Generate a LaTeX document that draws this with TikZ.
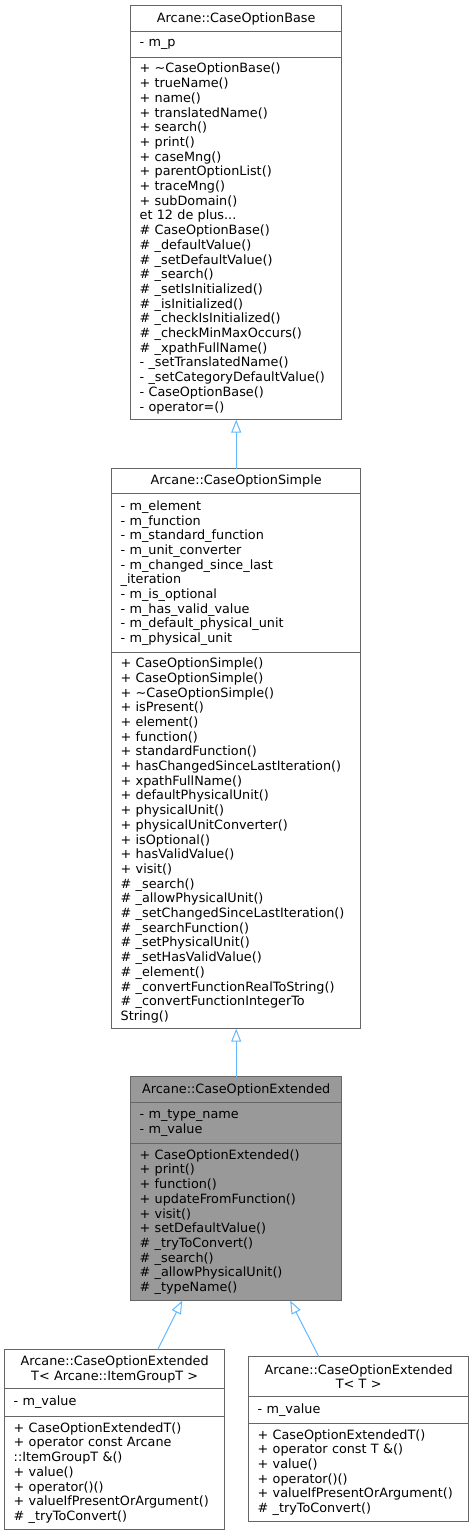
\documentclass[tikz,border=0pt]{standalone}
\usepackage{fontspec}
\setmainfont{DejaVu Sans}
\usetikzlibrary{arrows.meta}
\definecolor{boxgray}{HTML}{666666}
\definecolor{inheritblue}{HTML}{63B8FF}
\definecolor{hilite}{HTML}{999999}

\begin{document}
\begin{tikzpicture}[x=1pt,y=-1pt,
  slot/.style={anchor=north west, inner xsep=9pt, inner ysep=1pt,
    align=left, font=\fontsize{12.8}{14.7}\selectfont},
  clsname/.style={slot, align=center},
  boxline/.style={draw=boxgray, line width=1pt},
  isa/.style={draw=inheritblue, line width=1pt, -{Triangle[open,length=13pt,width=10pt]}}]
\useasboundingbox (0,0) rectangle (475,1535);

\node[clsname, text width=193pt, minimum height=26pt] (base-name) at (130.5,5.5) {Arcane::CaseOptionBase};
\node[slot, text width=193pt, minimum height=25pt] (base-attr) at (base-name.south west) {- m\_p};
\node[slot, text width=193pt, minimum height=362pt] (base-ops) at (base-attr.south west)
  {+ \textasciitilde CaseOptionBase()\\+ trueName()\\+ name()\\+ translatedName()\\+ search()\\
   + print()\\+ caseMng()\\+ parentOptionList()\\+ traceMng()\\+ subDomain()\\et 12 de plus...\\
   \# CaseOptionBase()\\\# \_defaultValue()\\\# \_setDefaultValue()\\\# \_search()\\
   \# \_setIsInitialized()\\\# \_isInitialized()\\\# \_checkIsInitialized()\\
   \# \_checkMinMaxOccurs()\\\# \_xpathFullName()\\- \_setTranslatedName()\\
   - \_setCategoryDefaultValue()\\- CaseOptionBase()\\- operator=()};

\node[clsname, text width=231pt, minimum height=25pt] (simple-name) at (111.5,468.5) {Arcane::CaseOptionSimple};
\node[slot, text width=231pt, minimum height=158pt] (simple-attr) at (simple-name.south west)
  {- m\_element\\- m\_function\\- m\_standard\_function\\- m\_unit\_converter\\
   - m\_changed\_since\_last\\\_iteration\\- m\_is\_optional\\- m\_has\_valid\_value\\
   - m\_default\_physical\_unit\\- m\_physical\_unit};
\node[slot, text width=231pt, minimum height=376pt] (simple-ops) at (simple-attr.south west)
  {+ CaseOptionSimple()\\+ CaseOptionSimple()\\+ \textasciitilde CaseOptionSimple()\\+ isPresent()\\
   + element()\\+ function()\\+ standardFunction()\\+ hasChangedSinceLastIteration()\\
   + xpathFullName()\\+ defaultPhysicalUnit()\\+ physicalUnit()\\+ physicalUnitConverter()\\
   + isOptional()\\+ hasValidValue()\\+ visit()\\\# \_search()\\\# \_allowPhysicalUnit()\\
   \# \_setChangedSinceLastIteration()\\\# \_searchFunction()\\\# \_setPhysicalUnit()\\
   \# \_setHasValidValue()\\\# \_element()\\\# \_convertFunctionRealToString()\\
   \# \_convertFunctionIntegerTo\\String()};

\node[clsname, fill=hilite, text width=193pt, minimum height=26pt] (ext-name) at (130.5,1076.5) {Arcane::CaseOptionExtended};
\node[slot, fill=hilite, text width=193pt, minimum height=40pt] (ext-attr) at (ext-name.south west)
  {- m\_type\_name\\- m\_value};
\node[slot, fill=hilite, text width=193pt, minimum height=157pt] (ext-ops) at (ext-attr.south west)
  {+ CaseOptionExtended()\\+ print()\\+ function()\\+ updateFromFunction()\\+ visit()\\
   + setDefaultValue()\\\# \_tryToConvert()\\\# \_search()\\\# \_allowPhysicalUnit()\\\# \_typeName()};

\node[clsname, text width=202pt, minimum height=39pt] (grp-name) at (4.5,1349.5)
  {Arcane::CaseOptionExtended\\T< Arcane::ItemGroupT >};
\node[slot, text width=202pt, minimum height=27pt] (grp-attr) at (grp-name.south west) {- m\_value};
\node[slot, text width=202pt, minimum height=113pt] (grp-ops) at (grp-attr.south west)
  {+ CaseOptionExtendedT()\\+ operator const Arcane\\::ItemGroupT \&()\\+ value()\\
   + operator()()\\+ valueIfPresentOrArgument()\\\# \_tryToConvert()};

\node[clsname, text width=202pt, minimum height=40pt] (tpl-name) at (248.5,1356.5)
  {Arcane::CaseOptionExtended\\T< T >};
\node[slot, text width=202pt, minimum height=26pt] (tpl-attr) at (tpl-name.south west) {- m\_value};
\node[slot, text width=202pt, minimum height=98pt] (tpl-ops) at (tpl-attr.south west)
  {+ CaseOptionExtendedT()\\+ operator const T \&()\\+ value()\\+ operator()()\\
   + valueIfPresentOrArgument()\\\# \_tryToConvert()};

\foreach \c in {base,simple,ext,grp,tpl}
  \draw[boxline] (\c-name.north west) rectangle (\c-ops.south east)
    (\c-attr.north west) -- (\c-attr.north east) (\c-ops.north west) -- (\c-ops.north east);

\draw[isa] (simple-name.north) -- (base-ops.south);
\draw[isa] (ext-name.north) -- (simple-ops.south);
\draw[isa] ([xshift=43pt]grp-name.north) -- ([xshift=-54pt]ext-ops.south);
\draw[isa] ([xshift=-40pt]tpl-name.north) -- ([xshift=54pt]ext-ops.south);
\end{tikzpicture}
\end{document}
